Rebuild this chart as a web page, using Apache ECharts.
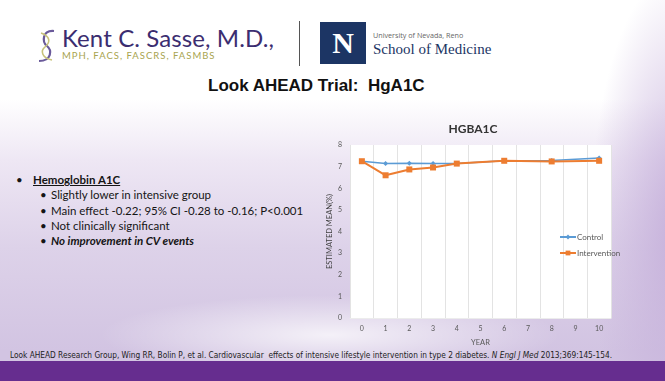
<!DOCTYPE html>
<html><head><meta charset="utf-8">
<script src="https://cdn.jsdelivr.net/npm/echarts@6/dist/echarts.min.js"></script>
<style>
html,body{margin:0;padding:0;width:665px;height:381px;overflow:hidden;}
body{position:relative;font-family:Lato,"Open Sans",sans-serif;
background:
 radial-gradient(ellipse 90px 260px at 680px 230px, rgba(196,174,218,0.95), rgba(196,174,218,0)),
 radial-gradient(ellipse 230px 40px at 330px 335px, rgba(255,255,255,0.75), rgba(255,255,255,0)),
 linear-gradient(to bottom, #ffffff 0%, #ffffff 26%, #eee7f4 42%, #ddd2e9 65%, #d2c4e2 92%);
}
.abs{position:absolute;white-space:nowrap;}
#chart{position:absolute;left:0;top:0;width:665px;height:381px;}
#band{position:absolute;left:0;top:361px;width:665px;height:20px;background:#662d8f;}
.b{position:absolute;white-space:nowrap;font-size:11.5px;color:#151515;line-height:15px;}
</style></head>
<body>
<!-- header -->
<svg class="abs" style="left:34px;top:28px" width="26" height="36" viewBox="0 0 26 36">
 <path d="M20 3 C8 2, 8 14, 13 18 C18 22, 18 33, 5 33" fill="none" stroke="#6a5a9a" stroke-width="2.2"/>
 <path d="M7 5 C16 8, 17 14, 11 19 C6 23, 8 30, 18 32" fill="none" stroke="#c8c27a" stroke-width="1.6"/>
</svg>
<div class="abs" style="left:62px;top:23px;font-family:Lato,sans-serif;font-size:24px;line-height:30px;color:#3b2d70;letter-spacing:0.1px">Kent C. Sasse, M.D.,</div>
<div class="abs" style="left:62px;top:50px;font-family:Lato,sans-serif;font-size:9.5px;line-height:11px;color:#a8a44e;letter-spacing:1px">MPH, FACS, FASCRS, FASMBS</div>
<div class="abs" style="left:299px;top:21px;width:1px;height:45px;background:#555"></div>
<div class="abs" style="left:320px;top:22px;width:46px;height:42px;background:#1c3564;color:#fff;font-family:'Liberation Serif',serif;font-weight:bold;font-size:30px;line-height:42px;text-align:center">N</div>
<div class="abs" style="left:373px;top:30px;font-family:'Open Sans',sans-serif;font-size:7.2px;line-height:10px;color:#666">University of Nevada, Reno</div>
<div class="abs" style="left:373px;top:40px;font-family:'Liberation Serif',serif;font-size:15px;line-height:18px;color:#1c3564">School of Medicine</div>
<div class="abs" style="left:208px;top:76px;font-family:'Liberation Sans',Arial,sans-serif;font-weight:bold;font-size:17px;line-height:20px;color:#111">Look AHEAD Trial:&nbsp; HgA1C</div>
<!-- bullets -->
<div class="b" style="left:16px;top:172px">•</div>
<div class="b" style="left:33px;top:172px;font-weight:bold;text-decoration:underline">Hemoglobin A1C</div>
<div class="b" style="left:40px;top:187px">•</div>
<div class="b" style="left:51px;top:187px">Slightly lower in intensive group</div>
<div class="b" style="left:40px;top:203px">•</div>
<div class="b" style="left:51px;top:203px">Main effect -0.22; 95% CI -0.28 to -0.16; P&lt;0.001</div>
<div class="b" style="left:40px;top:218px">•</div>
<div class="b" style="left:51px;top:218px">Not clinically significant</div>
<div class="b" style="left:40px;top:233px">•</div>
<div class="b" style="left:51px;top:233px;font-weight:bold;font-style:italic">No improvement in CV events</div>
<!-- footer -->
<div id="cite" class="abs" style="left:10px;top:351px;font-family:'Liberation Sans Narrow','DejaVu Sans Condensed',sans-serif;font-size:8px;line-height:10px;color:#222;transform-origin:0 0">Look AHEAD Research Group, Wing RR, Bolin P, et al. Cardiovascular&nbsp; effects of intensive lifestyle intervention in type 2 diabetes. <i>N Engl J Med</i> 2013;369:145-154.</div>
<div id="band"></div>
<div id="chart"></div>
<script>
// fit citation width
(function(){var c=document.getElementById('cite');var w=c.getBoundingClientRect().width;c.style.transform='scaleX('+(602/w)+')';})();

const years = ['0','1','2','3','4','5','6','7','8','9','10'];
const controlValues =      [7.25, 7.15, 7.16, 7.15, 7.15, null, 7.27, null, 7.28, null, 7.40];
const interventionValues = [7.25, 6.60, 6.87, 6.96, 7.14, null, 7.27, null, 7.24, null, 7.27];
const yTicks = {min:0, max:8, interval:1};

const chart = echarts.init(document.getElementById('chart'), null, {renderer:'canvas'});
chart.setOption({
  backgroundColor:'transparent',
  textStyle:{fontFamily:'Lato, "Open Sans", sans-serif'},
  graphic:[{type:'text', x:473, y:129, style:{text:'HGBA1C', fontSize:12, fontWeight:'bold', fill:'#333', textAlign:'center', textVerticalAlign:'middle', fontFamily:'Lato, sans-serif'}}],
  grid:{left:350, right:54, top:145, bottom:63, show:true, backgroundColor:'#ffffff', borderWidth:0},
  legend:{orient:'vertical', left:554, top:228, itemWidth:16, itemHeight:6, itemGap:8,
    textStyle:{fontSize:8, color:'#595959', padding:[0,0,0,-4]}, data:['Control','Intervention']},
  xAxis:{type:'category', data:years, boundaryGap:true, name:'YEAR', nameLocation:'middle', nameGap:21,
    nameTextStyle:{fontSize:7.5, color:'#595959'},
    axisLine:{show:true, lineStyle:{color:'#ececec'}}, axisTick:{show:false},
    axisLabel:{fontSize:7, color:'#595959', margin:7},
    splitLine:{show:true, lineStyle:{color:'#e3e3e3', width:1}}},
  yAxis:{type:'value', min:yTicks.min, max:yTicks.max, interval:yTicks.interval,
    name:'ESTIMATED MEAN(%)', nameLocation:'middle', nameGap:16,
    nameTextStyle:{fontSize:7.5, color:'#404040'},
    axisLine:{show:false}, axisTick:{show:false}, splitLine:{show:false},
    axisLabel:{fontSize:7, color:'#595959', margin:8}},
  series:[
    {name:'Control', type:'line', data:controlValues, connectNulls:true, color:'#5b9bd5',
     symbol:'diamond', symbolSize:5, showAllSymbol:true, lineStyle:{width:1.5}},
    {name:'Intervention', type:'line', data:interventionValues, connectNulls:true, color:'#ed7d31',
     symbol:'rect', symbolSize:6, showAllSymbol:true, lineStyle:{width:2}}
  ]
});
</script>
</body></html>
